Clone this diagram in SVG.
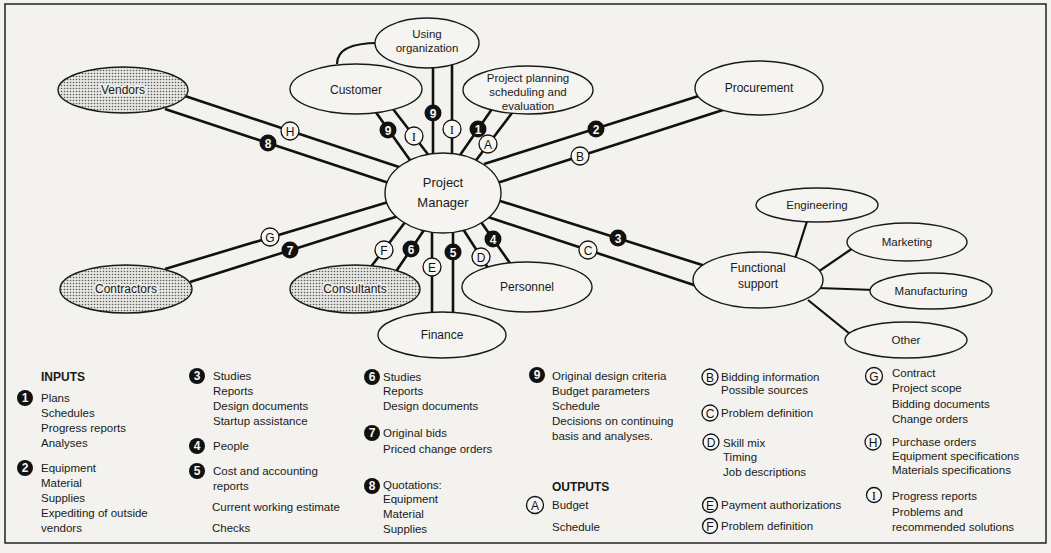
<svg xmlns="http://www.w3.org/2000/svg" width="1051" height="553" viewBox="0 0 1051 553">
<defs>
<pattern id="dots" width="3" height="3" patternUnits="userSpaceOnUse"><rect width="3" height="3" fill="#e6e6e2"/><circle cx="1.5" cy="1.5" r="0.8" fill="#5a5a5a"/></pattern>
<style>
.node{fill:#f5f4f0;stroke:#1a1a1a;stroke-width:1.4}
.stip{fill:url(#dots);stroke:#1a1a1a;stroke-width:1.4}
.lbl{font-family:"Liberation Sans",Arial,sans-serif;font-size:12px;fill:#1a1a1a;text-anchor:middle}
.sm{font-size:11.5px}
.pm{font-size:13px}
.halo{stroke:#ecebe7;stroke-width:4;paint-order:stroke;stroke-linejoin:round}
.ln{stroke:#111;stroke-width:2.6;fill:none;stroke-linecap:butt}
.br{stroke:#111;stroke-width:2.2;fill:none}
.wb{fill:#f7f6f2;stroke:#111;stroke-width:1.3}
.bb{fill:#111}
.wt{font-family:"Liberation Sans",Arial,sans-serif;font-size:12px;fill:#111;text-anchor:middle}
.wti{font-family:"Liberation Serif","Times New Roman",serif;font-size:13px;fill:#111;text-anchor:middle}
.bt{font-family:"Liberation Sans",Arial,sans-serif;font-size:12px;font-weight:bold;fill:#f7f6f2;text-anchor:middle}
.lg{font-family:"Liberation Sans",Arial,sans-serif;font-size:11.5px;fill:#1a1a1a}
.hd{font-family:"Liberation Sans",Arial,sans-serif;font-size:12px;fill:#1a1a1a;font-weight:bold}
</style>
</defs>
<rect width="1051" height="553" fill="#f3f2ee"/>
<rect x="5" y="4" width="1041" height="539" fill="none" stroke="#222" stroke-width="1.5"/>

<g id="connectors">
<path class="br" d="M337,64 C337,50 350,43 378,43"/>
<line class="ln" x1="185" y1="96" x2="402" y2="168"/>
<line class="ln" x1="165" y1="109" x2="392" y2="184"/>
<line class="ln" x1="165" y1="269" x2="395" y2="200"/>
<line class="ln" x1="190" y1="282" x2="405" y2="214"/>
<line class="ln" x1="375" y1="111" x2="412" y2="163"/>
<line class="ln" x1="393" y1="109" x2="430" y2="157"/>
<line class="ln" x1="433" y1="64" x2="433" y2="158"/>
<line class="ln" x1="452" y1="64" x2="452" y2="158"/>
<line class="ln" x1="458" y1="158" x2="492" y2="109"/>
<line class="ln" x1="474" y1="163" x2="515" y2="109"/>
<line class="ln" x1="484" y1="164" x2="705" y2="94"/>
<line class="ln" x1="497" y1="183" x2="726" y2="109"/>
<line class="ln" x1="497" y1="200" x2="718" y2="270"/>
<line class="ln" x1="488" y1="217" x2="700" y2="287"/>
<line class="ln" x1="406" y1="221" x2="370" y2="268"/>
<line class="ln" x1="424" y1="230" x2="395" y2="273"/>
<line class="ln" x1="432" y1="228" x2="432" y2="316"/>
<line class="ln" x1="453" y1="228" x2="453" y2="316"/>
<line class="ln" x1="463" y1="229" x2="490" y2="271"/>
<line class="ln" x1="481" y1="222" x2="512" y2="266"/>
<line class="br" x1="794" y1="262" x2="809" y2="215"/>
<line class="br" x1="812" y1="276" x2="853" y2="248"/>
<line class="br" x1="818" y1="288" x2="875" y2="290"/>
<line class="br" x1="808" y1="300" x2="850" y2="334"/>

<g id="connector-labels">
<circle class="wb" cx="290" cy="131" r="9"/><text class="wt" x="290" y="135.5">H</text>
<circle class="bb" cx="268" cy="143" r="8.5"/><text class="bt" x="268" y="147.5">8</text>
<circle class="wb" cx="270" cy="237" r="9"/><text class="wt" x="270" y="241.5">G</text>
<circle class="bb" cx="290" cy="250" r="8.5"/><text class="bt" x="290" y="254.5">7</text>
<circle class="bb" cx="388" cy="130" r="8.5"/><text class="bt" x="388" y="134.5">9</text>
<circle class="wb" cx="414" cy="136" r="9"/><text class="wti" x="414" y="140.5">I</text>
<circle class="bb" cx="433" cy="113" r="8.5"/><text class="bt" x="433" y="117.5">9</text>
<circle class="wb" cx="452" cy="129" r="9"/><text class="wti" x="452" y="133.5">I</text>
<circle class="bb" cx="478" cy="129" r="8.5"/><text class="bt" x="478" y="133.5">1</text>
<circle class="wb" cx="488" cy="144" r="9"/><text class="wt" x="488" y="148.5">A</text>
<circle class="bb" cx="596" cy="129" r="8.5"/><text class="bt" x="596" y="133.5">2</text>
<circle class="wb" cx="580" cy="156" r="9"/><text class="wt" x="580" y="160.5">B</text>
<circle class="bb" cx="618" cy="238" r="8.5"/><text class="bt" x="618" y="242.5">3</text>
<circle class="wb" cx="588" cy="250" r="9"/><text class="wt" x="588" y="254.5">C</text>
<circle class="wb" cx="384" cy="250" r="9"/><text class="wt" x="384" y="254.5">F</text>
<circle class="bb" cx="411" cy="249" r="8.5"/><text class="bt" x="411" y="253.5">6</text>
<circle class="wb" cx="432" cy="267" r="9"/><text class="wt" x="432" y="271.5">E</text>
<circle class="bb" cx="453" cy="252" r="8.5"/><text class="bt" x="453" y="256.5">5</text>
<circle class="wb" cx="481" cy="257" r="9"/><text class="wt" x="481" y="261.5">D</text>
<circle class="bb" cx="493" cy="239" r="8.5"/><text class="bt" x="493" y="243.5">4</text>
</g>
</g>

<g id="project-manager"><ellipse class="node" cx="443" cy="193" rx="58" ry="40"/><text class="lbl pm" x="443" y="187">Project</text><text class="lbl pm" x="443" y="207">Manager</text></g>
<g id="using-organization"><ellipse class="node" cx="427" cy="43" rx="52" ry="25"/><text class="lbl sm" x="427" y="38">Using</text><text class="lbl sm" x="427" y="52">organization</text></g>
<g id="customer"><ellipse class="node" cx="356" cy="89" rx="66" ry="25"/><text class="lbl" x="356" y="94">Customer</text></g>
<g id="project-planning"><ellipse class="node" cx="528" cy="90" rx="65" ry="24"/><text class="lbl sm" x="528" y="82">Project planning</text><text class="lbl sm" x="528" y="96">scheduling and</text><text class="lbl sm" x="528" y="110">evaluation</text></g>
<g id="procurement"><ellipse class="node" cx="759" cy="88" rx="64" ry="27"/><text class="lbl" x="759" y="92">Procurement</text></g>
<g id="vendors"><ellipse class="stip" cx="123" cy="90" rx="65" ry="23"/><text class="lbl halo" x="123" y="94">Vendors</text></g>
<g id="contractors"><ellipse class="stip" cx="126" cy="289" rx="66" ry="24"/><text class="lbl halo" x="126" y="293">Contractors</text></g>
<g id="consultants"><ellipse class="stip" cx="355" cy="289" rx="65" ry="24"/><text class="lbl halo" x="355" y="293">Consultants</text></g>
<g id="finance"><ellipse class="node" cx="442" cy="335" rx="64" ry="23"/><text class="lbl" x="442" y="339">Finance</text></g>
<g id="personnel"><ellipse class="node" cx="527" cy="287" rx="65" ry="25"/><text class="lbl" x="527" y="291">Personnel</text></g>
<g id="functional-support"><ellipse class="node" cx="758" cy="280" rx="65" ry="28"/><text class="lbl" x="758" y="272">Functional</text><text class="lbl" x="758" y="288">support</text></g>
<g id="engineering"><ellipse class="node" cx="817" cy="205" rx="61" ry="17"/><text class="lbl sm" x="817" y="209">Engineering</text></g>
<g id="marketing"><ellipse class="node" cx="907" cy="242" rx="60" ry="19"/><text class="lbl sm" x="907" y="246">Marketing</text></g>
<g id="manufacturing"><ellipse class="node" cx="931" cy="291" rx="61" ry="18"/><text class="lbl sm" x="931" y="295">Manufacturing</text></g>
<g id="other"><ellipse class="node" cx="906" cy="340" rx="61" ry="18"/><text class="lbl sm" x="906" y="344">Other</text></g>

<g id="legend">
<text class="hd" x="41" y="381">INPUTS</text>
<circle class="bb" cx="25" cy="398" r="8"/><text class="bt" x="25" y="402">1</text>
<text class="lg" x="41" y="402">Plans</text>
<text class="lg" x="41" y="417">Schedules</text>
<text class="lg" x="41" y="432">Progress reports</text>
<text class="lg" x="41" y="447">Analyses</text>
<circle class="bb" cx="25" cy="468" r="8"/><text class="bt" x="25" y="472">2</text>
<text class="lg" x="41" y="472">Equipment</text>
<text class="lg" x="41" y="487">Material</text>
<text class="lg" x="41" y="502">Supplies</text>
<text class="lg" x="41" y="517">Expediting of outside</text>
<text class="lg" x="41" y="532">vendors</text>

<circle class="bb" cx="197" cy="376" r="8"/><text class="bt" x="197" y="380">3</text>
<text class="lg" x="213" y="380">Studies</text>
<text class="lg" x="213" y="395">Reports</text>
<text class="lg" x="213" y="410">Design documents</text>
<text class="lg" x="213" y="425">Startup assistance</text>
<circle class="bb" cx="197" cy="446" r="8"/><text class="bt" x="197" y="450">4</text>
<text class="lg" x="213" y="450">People</text>
<circle class="bb" cx="197" cy="471" r="8"/><text class="bt" x="197" y="475">5</text>
<text class="lg" x="213" y="475">Cost and accounting</text>
<text class="lg" x="213" y="490">reports</text>
<text class="lg" x="212" y="511">Current working estimate</text>
<text class="lg" x="212" y="532">Checks</text>

<circle class="bb" cx="372" cy="377" r="8"/><text class="bt" x="372" y="381">6</text>
<text class="lg" x="383" y="381">Studies</text>
<text class="lg" x="383" y="395">Reports</text>
<text class="lg" x="383" y="410">Design documents</text>
<circle class="bb" cx="372" cy="433" r="8"/><text class="bt" x="372" y="437">7</text>
<text class="lg" x="383" y="437">Original bids</text>
<text class="lg" x="383" y="453">Priced change orders</text>
<circle class="bb" cx="372" cy="486" r="8"/><text class="bt" x="372" y="490">8</text>
<text class="lg" x="383" y="489">Quotations:</text>
<text class="lg" x="383" y="503">Equipment</text>
<text class="lg" x="383" y="518">Material</text>
<text class="lg" x="383" y="533">Supplies</text>

<circle class="bb" cx="537" cy="375" r="8"/><text class="bt" x="537" y="379">9</text>
<text class="lg" x="552" y="380">Original design criteria</text>
<text class="lg" x="552" y="395">Budget parameters</text>
<text class="lg" x="552" y="410">Schedule</text>
<text class="lg" x="552" y="425">Decisions on continuing</text>
<text class="lg" x="552" y="440">basis and analyses.</text>
<text class="hd" x="552" y="491">OUTPUTS</text>
<circle class="wb" cx="535" cy="505" r="8.5"/><text class="wt" x="535" y="509.5">A</text>
<text class="lg" x="552" y="509">Budget</text>
<text class="lg" x="552" y="531">Schedule</text>

<circle class="wb" cx="710" cy="377" r="8"/><text class="wt" x="710" y="381.5">B</text>
<text class="lg" x="721" y="381">Bidding information</text>
<text class="lg" x="721" y="394">Possible sources</text>
<circle class="wb" cx="710" cy="413" r="8"/><text class="wt" x="710" y="417.5">C</text>
<text class="lg" x="721" y="417">Problem definition</text>
<circle class="wb" cx="711" cy="442" r="8"/><text class="wt" x="711" y="446.5">D</text>
<text class="lg" x="723" y="447">Skill mix</text>
<text class="lg" x="723" y="461">Timing</text>
<text class="lg" x="723" y="476">Job descriptions</text>
<circle class="wb" cx="710" cy="505" r="7.5"/><text class="wt" x="710" y="509.5">E</text>
<text class="lg" x="721" y="509">Payment authorizations</text>
<circle class="wb" cx="710" cy="526" r="7.5"/><text class="wt" x="710" y="530.5">F</text>
<text class="lg" x="721" y="530">Problem definition</text>

<circle class="wb" cx="874" cy="376" r="8.5"/><text class="wt" x="874" y="380.5">G</text>
<text class="lg" x="892" y="377">Contract</text>
<text class="lg" x="892" y="392">Project scope</text>
<text class="lg" x="892" y="408">Bidding documents</text>
<text class="lg" x="892" y="423">Change orders</text>
<circle class="wb" cx="873" cy="442" r="8"/><text class="wt" x="873" y="446.5">H</text>
<text class="lg" x="892" y="446">Purchase orders</text>
<text class="lg" x="892" y="460">Equipment specifications</text>
<text class="lg" x="892" y="474">Materials specifications</text>
<circle class="wb" cx="874" cy="495" r="7.5"/><text class="wti" x="874" y="499.5">I</text>
<text class="lg" x="892" y="500">Progress reports</text>
<text class="lg" x="892" y="516">Problems and</text>
<text class="lg" x="892" y="531">recommended solutions</text>
</g>
</svg>
